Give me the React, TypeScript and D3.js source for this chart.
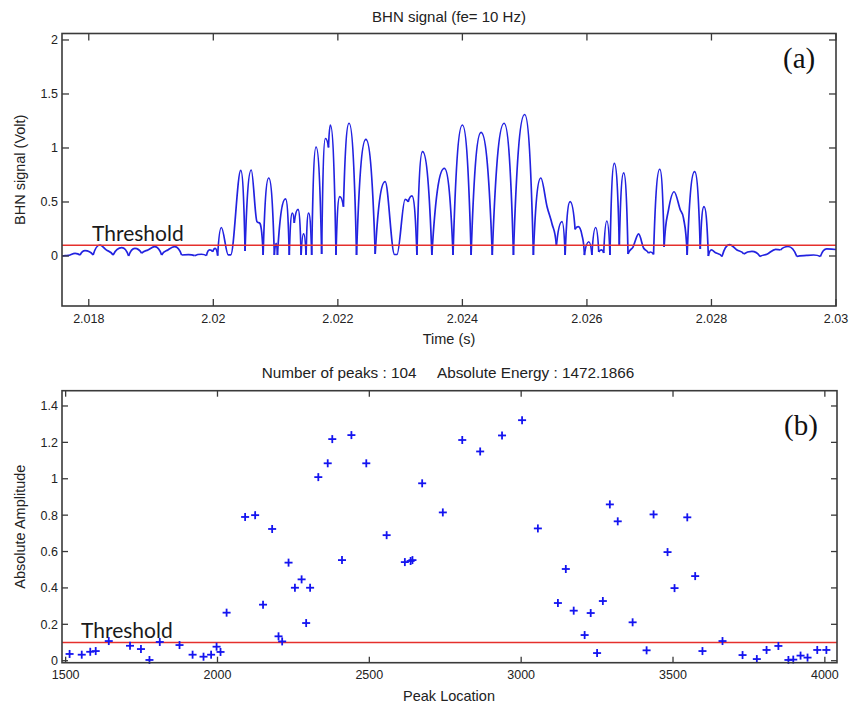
import React from 'react';
import * as d3 from 'd3';

// ---------- Data: panel (a) BHN signal ----------
const signalTime = [
  2.01757, 2.01767, 2.01778, 2.01786, 2.01794, 2.01807, 2.01818, 2.01828, 2.01839, 2.01853,
  2.01864, 2.01874, 2.01885, 2.01895, 2.01906, 2.01917, 2.01927, 2.01938, 2.01949, 2.0196,
  2.0197, 2.01981, 2.01989, 2.01994, 2.01999, 2.02003, 2.02007, 2.02013, 2.02024, 2.02028,
  2.02044, 2.02051, 2.02061, 2.0207, 2.02075, 2.0208, 2.02089, 2.02098, 2.02101, 2.02103,
  2.02116, 2.02122, 2.02127, 2.0213, 2.02136, 2.02141, 2.02145, 2.02149, 2.02153, 2.02158,
  2.02165, 2.02174, 2.0218, 2.02185, 2.02188, 2.02197, 2.02203, 2.02209, 2.02218, 2.0223,
  2.02245, 2.0226, 2.02276, 2.02291, 2.02295, 2.02308, 2.02313, 2.02319, 2.02327, 2.02336,
  2.02351, 2.02371, 2.02385, 2.024, 2.02414, 2.0243, 2.02448, 2.02467, 2.02482, 2.025,
  2.02514, 2.02526, 2.02536, 2.02544, 2.02551, 2.0256, 2.02565, 2.02573, 2.02581, 2.02586,
  2.02592, 2.02596, 2.02603, 2.02608, 2.02614, 2.02619, 2.02623, 2.02627, 2.02632, 2.02637,
  2.02644, 2.02652, 2.02659, 2.02666, 2.02674, 2.02683, 2.02691, 2.02699, 2.02702, 2.02707,
  2.02717, 2.02724, 2.02731, 2.0274, 2.0275, 2.02755, 2.02761, 2.02773, 2.02782, 2.02788,
  2.02795, 2.028, 2.02806, 2.02817, 2.02829, 2.02841, 2.02852, 2.02865, 2.02878, 2.02889,
  2.02903, 2.02911, 2.02923, 2.02937, 2.02953, 2.02964, 2.02975, 2.02985, 2.03,
];
const signalVolt = [
  0, 0.005, 0.025, 0.009, 0.049, 0.009, 0.102, 0.056, 0.009, 0.077,
  0.0, 0.071, 0.025, 0.056, 0.086, 0.009, 0.056, 0.086, 0.009, 0.012,
  0.003, 0.016, 0.003, 0.056, 0.04, 0.071, 0.003, 0.264, 0.01, 0.01,
  0.792, 0.046, 0.796, 0.318, 0.301, 0.009, 0.722, 0.009, 0.118, 0.009,
  0.528, 0.009, 0.398, 0.306, 0.431, 0.009, 0.204, 0.009, 0.398, 0.009,
  1.009, 0.019, 1.088, 1.005, 1.213, 0.009, 0.549, 0.456, 1.229, 0.009,
  1.079, 0.019, 0.688, 0.014, 0.014, 0.525, 0.5, 0.556, 0.009, 0.966,
  0.009, 0.812, 0.009, 1.213, 0.009, 1.144, 0.009, 1.229, 0.009, 1.31,
  0.009, 0.722, 0.456, 0.296, 0.093, 0.318, 0.009, 0.503, 0.247, 0.271,
  0.194, 0.009, 0.132, 0.009, 0.264, 0.037, 0.056, 0.028, 0.324, 0.009,
  0.858, 0.102, 0.769, 0.019, 0.083, 0.204, 0.074, 0.025, 0.037, 0.014,
  0.803, 0.083, 0.426, 0.595, 0.426, 0.352, 0.009, 0.782, 0.065, 0.458,
  0.0, 0.056, 0.032, -0.005, 0.106, 0.056, 0.019, 0.042, -0.005, 0.016,
  0.062, 0.056, 0.088, -0.005, 0.005, 0.009, -0.005, 0.065, 0.06,
];
const thresholdVolt = 0.1;
const timeTicks = [2.018, 2.02, 2.022, 2.024, 2.026, 2.028, 2.03];
const voltTicks = [0, 0.5, 1, 1.5, 2];

// ---------- Data: panel (b) peaks ----------
const peakLocation = [
  1513, 1553, 1581, 1599, 1642, 1712, 1748, 1776, 1810, 1875,
  1918, 1954, 1979, 1997, 2010, 2030, 2091, 2124, 2150, 2180,
  2201, 2213, 2234, 2255, 2277, 2292, 2305, 2332, 2363, 2378,
  2410, 2441, 2490, 2557, 2617, 2636, 2642, 2674, 2742, 2806,
  2865, 2937, 3003, 3055, 3121, 3147, 3173, 3209, 3229, 3250,
  3269, 3292, 3318, 3367, 3413, 3436, 3482, 3505, 3547, 3573,
  3597, 3663, 3729, 3776, 3808, 3847, 3880, 3896, 3920, 3943,
  3975, 4005,
];
const peakAmplitude = [
  0.037, 0.033, 0.049, 0.053, 0.108, 0.082, 0.064, 0.004, 0.103, 0.086,
  0.033, 0.022, 0.033, 0.077, 0.048, 0.264, 0.79, 0.8, 0.308, 0.724,
  0.134, 0.106, 0.539, 0.401, 0.447, 0.207, 0.401, 1.009, 1.085, 1.218,
  0.553, 1.24, 1.085, 0.69, 0.542, 0.548, 0.553, 0.975, 0.815, 1.213,
  1.15, 1.238, 1.322, 0.727, 0.317, 0.504, 0.275, 0.141, 0.262, 0.042,
  0.328, 0.859, 0.766, 0.211, 0.057, 0.804, 0.597, 0.399, 0.788, 0.465,
  0.053, 0.108, 0.031, 0.009, 0.059, 0.081, 0.004, 0.006, 0.028, 0.017,
  0.059, 0.059,
];
const thresholdAmp = 0.1;
const locationTicks = [1500, 2000, 2500, 3000, 3500, 4000];
const ampTicks = [0, 0.2, 0.4, 0.6, 0.8, 1, 1.2, 1.4];

const SANS = 'Liberation Sans, Arial, Helvetica, sans-serif';
const AXIS_COLOR = '#3a3a3a';
const TEXT_COLOR = '#222';

type Lin = d3.ScaleLinear<number, number>;

function Frame({ x, y, xTicks, yTicks, tickLen }: { x: Lin; y: Lin; xTicks: number[]; yTicks: number[]; tickLen: number }) {
  const [x0, x1] = x.range();
  const [y0, y1] = y.range(); // y0 bottom, y1 top
  return (
    <g>
      {xTicks.map((t) => (
        <g key={'x' + t}>
          <line x1={x(t)} x2={x(t)} y1={y0} y2={y0 - tickLen} stroke={AXIS_COLOR} strokeWidth={1.3} />
          <line x1={x(t)} x2={x(t)} y1={y1} y2={y1 + tickLen} stroke={AXIS_COLOR} strokeWidth={1.3} />
          <text x={x(t)} y={y0 + 16.5} textAnchor="middle" fontFamily={SANS} fontSize={12.5} fill={TEXT_COLOR}>{String(t)}</text>
        </g>
      ))}
      {yTicks.map((t) => (
        <g key={'y' + t}>
          <line x1={x0} x2={x0 + tickLen} y1={y(t)} y2={y(t)} stroke={AXIS_COLOR} strokeWidth={1.3} />
          <line x1={x1} x2={x1 - tickLen} y1={y(t)} y2={y(t)} stroke={AXIS_COLOR} strokeWidth={1.3} />
          <text x={x0 - 4} y={y(t) + 4.5} textAnchor="end" fontFamily={SANS} fontSize={12.5} fill={TEXT_COLOR}>{String(t)}</text>
        </g>
      ))}
      <rect x={x0} y={y1} width={x1 - x0} height={y0 - y1} fill="none" stroke={AXIS_COLOR} strokeWidth={1.6} />
    </g>
  );
}

// split the trace at each sharp local minimum, so every hump is its own arc
function splitAtMinima(pts: [number, number][]) {
  const segs: [number, number][][] = [];
  let cur: [number, number][] = [pts[0]];
  for (let i = 1; i < pts.length; i++) {
    cur.push(pts[i]);
    if (i < pts.length - 1 && pts[i][1] < pts[i - 1][1] && pts[i][1] < pts[i + 1][1]) {
      segs.push(cur);
      cur = [pts[i]];
    }
  }
  segs.push(cur);
  return segs;
}

// Hermite curve for d3.line: steep ends (cusp-like troughs), flat tangent at maxima
function curveHump(context: any) {
  let px: number[] = [];
  let py: number[] = [];
  const K = 2.4;
  return {
    areaStart() {},
    areaEnd() {},
    lineStart() {
      px = [];
      py = [];
    },
    point(x: number, y: number) {
      px.push(+x);
      py.push(+y);
    },
    lineEnd() {
      const n = px.length;
      if (!n) return;
      context.moveTo(px[0], py[0]);
      if (n === 1) return;
      if (n === 2) {
        context.lineTo(px[1], py[1]);
        return;
      }
      const s: number[] = [];
      for (let i = 0; i < n - 1; i++) s.push((py[i + 1] - py[i]) / (px[i + 1] - px[i]));
      const m: number[] = new Array(n).fill(0);
      m[0] = K * s[0];
      m[n - 1] = K * s[n - 2];
      for (let i = 1; i < n - 1; i++) {
        if (s[i - 1] * s[i] <= 0) m[i] = 0;
        else {
          const avg = (s[i - 1] + s[i]) / 2;
          const lim = 3 * Math.min(Math.abs(s[i - 1]), Math.abs(s[i]));
          m[i] = Math.sign(avg) * Math.min(Math.abs(avg), lim);
        }
      }
      for (let i = 0; i < n - 1; i++) {
        const dx = (px[i + 1] - px[i]) / 3;
        context.bezierCurveTo(px[i] + dx, py[i] + m[i] * dx, px[i + 1] - dx, py[i + 1] - m[i + 1] * dx, px[i + 1], py[i + 1]);
      }
    },
  };
}

export default function App() {
  // panel (a)
  const xA = d3.scaleLinear().domain([2.01757, 2.03]).range([62, 836]);
  const yA = d3.scaleLinear().domain([-0.463, 2.06]).range([306, 33.5]);
  const pts: [number, number][] = signalTime.map((t, i) => [t, signalVolt[i]]);
  const segs = splitAtMinima(pts);
  const line = d3
    .line<[number, number]>()
    .x((d) => xA(d[0]))
    .y((d) => yA(d[1]))
    .curve(curveHump as any);

  // panel (b)
  const xB = d3.scaleLinear().domain([1488, 4040]).range([62, 837]);
  const yB = d3.scaleLinear().domain([-0.011, 1.484]).range([662.7, 390.7]);

  const blue = '#2222e0';
  const markBlue = '#1414f0';
  const red = '#e5302c';

  return (
    <svg width={861} height={705} style={{ position: 'absolute', left: 0, top: 0, background: '#fff' }}>
      <defs>
        <clipPath id="clipA">
          <rect x={62} y={33.5} width={774} height={272.5} />
        </clipPath>
        <clipPath id="clipB">
          <rect x={62} y={390.7} width={775} height={272} />
        </clipPath>
      </defs>
      <rect x={0} y={0} width={861} height={705} fill="#fff" />

      {/* Panel (a) */}
      <text x={449} y={22} textAnchor="middle" fontFamily={SANS} fontSize={15} fill={TEXT_COLOR}>BHN signal (fe= 10 Hz)</text>
      <g clipPath="url(#clipA)">
        {segs.map((s, i) => (
          <path key={i} d={line(s) || ''} fill="none" stroke={blue} strokeWidth={1.7} strokeLinejoin="round" />
        ))}
        <line x1={62} x2={836} y1={yA(thresholdVolt)} y2={yA(thresholdVolt)} stroke={red} strokeWidth={1.6} />
      </g>
      <Frame x={xA} y={yA} xTicks={timeTicks} yTicks={voltTicks} tickLen={7} />
      <text x={92} y={241} fontFamily="Lato, 'Open Sans', sans-serif" fontSize={21} fill="#1a1a1a">Threshold</text>
      <text x={783} y={68} fontFamily="'Liberation Serif', 'Times New Roman', serif" fontSize={29} fill="#111">(a)</text>
      <text x={449} y={344} textAnchor="middle" fontFamily={SANS} fontSize={14.5} fill={TEXT_COLOR}>Time (s)</text>
      <text transform={`translate(25,${(33.5 + 306) / 2}) rotate(-90)`} textAnchor="middle" fontFamily={SANS} fontSize={14.5} fill={TEXT_COLOR}>BHN signal (Volt)</text>

      {/* Panel (b) */}
      <text x={448} y={378} textAnchor="middle" fontFamily={SANS} fontSize={15.3} fill={TEXT_COLOR} style={{ whiteSpace: 'pre' }}>{'Number of peaks : 104     Absolute Energy : 1472.1866'}</text>
      <g clipPath="url(#clipB)">
        <line x1={62} x2={837} y1={yB(thresholdAmp)} y2={yB(thresholdAmp)} stroke={red} strokeWidth={1.6} />
      </g>
      {peakLocation.map((p, i) => {
        const cx = xB(p);
        const cy = yB(peakAmplitude[i]);
        return (
          <g key={i} stroke={markBlue} strokeWidth={1.8}>
            <line x1={cx - 4} x2={cx + 4} y1={cy} y2={cy} />
            <line x1={cx} x2={cx} y1={cy - 4} y2={cy + 4} />
          </g>
        );
      })}
      <Frame x={xB} y={yB} xTicks={locationTicks} yTicks={ampTicks} tickLen={6} />
      <text x={81} y={638} fontFamily="Lato, 'Open Sans', sans-serif" fontSize={21} fill="#1a1a1a">Threshold</text>
      <text x={784} y={435} fontFamily="'Liberation Serif', 'Times New Roman', serif" fontSize={29} fill="#111">(b)</text>
      <text x={449} y={701} textAnchor="middle" fontFamily={SANS} fontSize={14.5} fill={TEXT_COLOR}>Peak Location</text>
      <text transform={`translate(25,${(390.7 + 662.7) / 2}) rotate(-90)`} textAnchor="middle" fontFamily={SANS} fontSize={14.5} fill={TEXT_COLOR}>Absolute Amplitude</text>
    </svg>
  );
}
